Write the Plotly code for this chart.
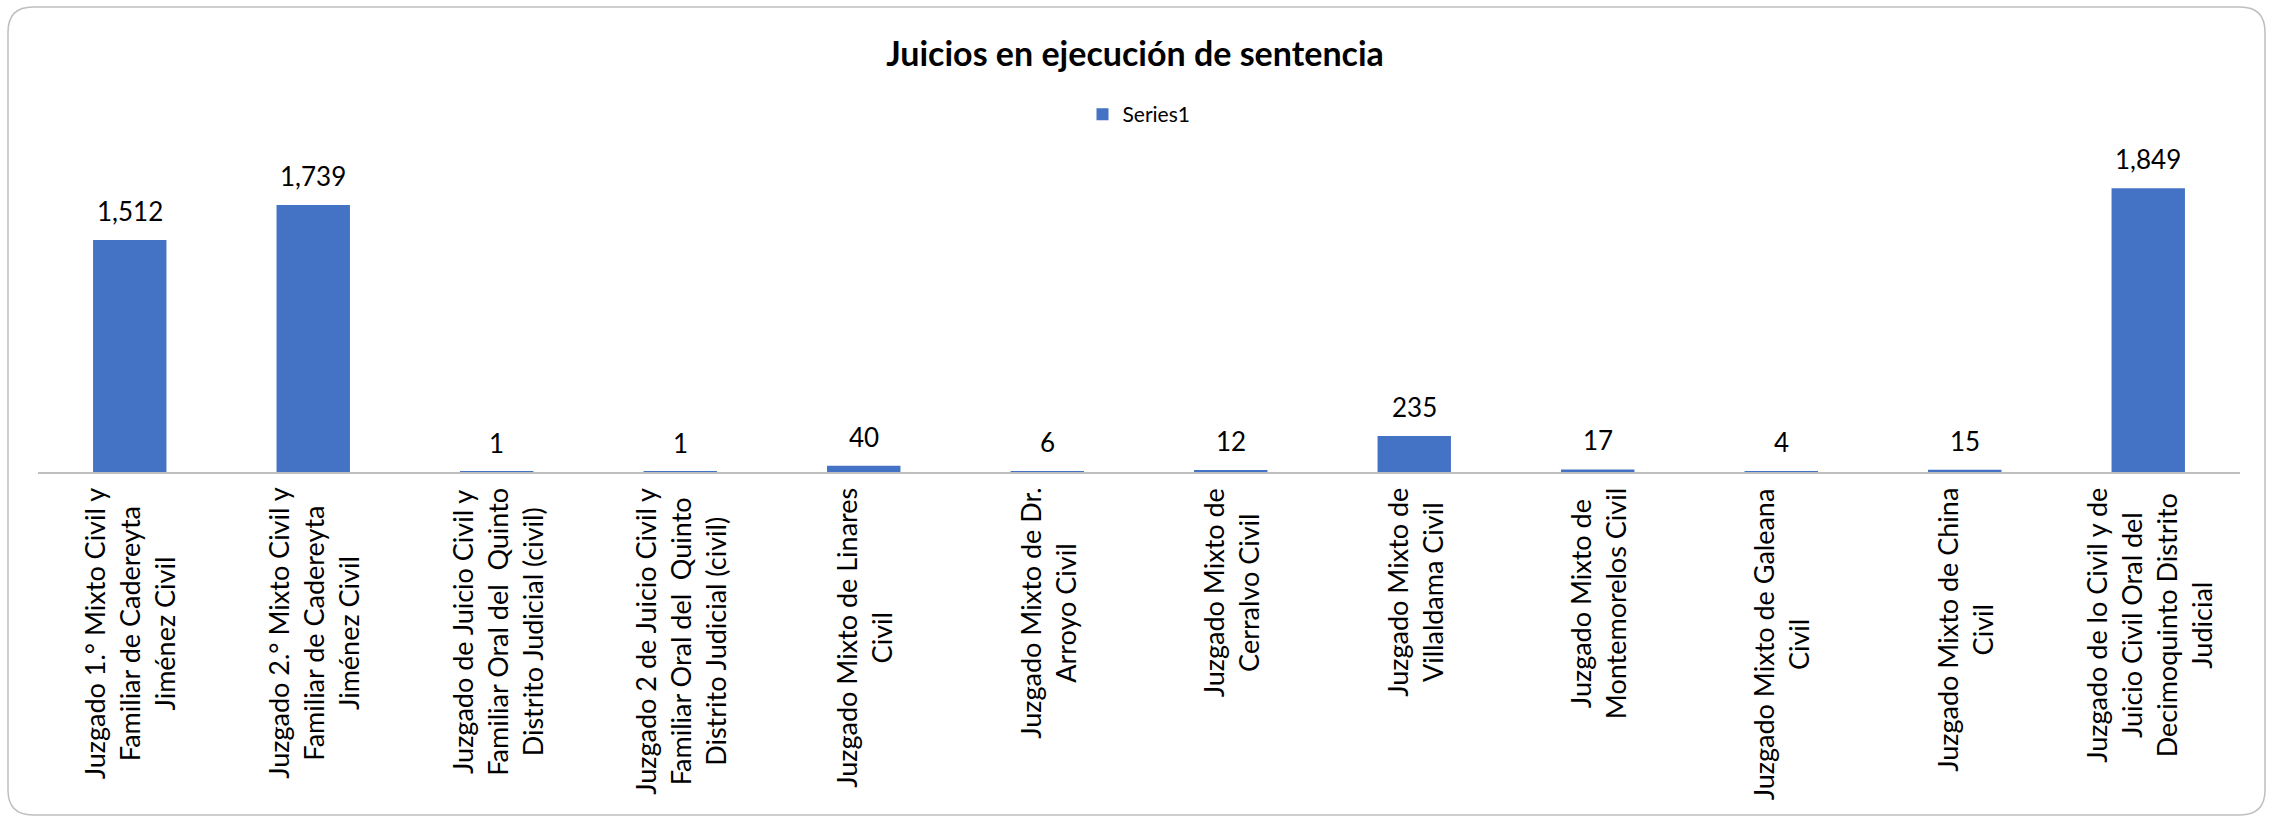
import plotly.graph_objects as go

# ---- data ----
categories = [
    "Juzgado 1.° Mixto Civil y<br>Familiar de Cadereyta<br>Jiménez Civil",
    "Juzgado 2.° Mixto Civil y<br>Familiar de Cadereyta<br>Jiménez Civil",
    "Juzgado de Juicio Civil y<br>Familiar Oral del  Quinto<br>Distrito Judicial (civil)",
    "Juzgado 2 de Juicio Civil y<br>Familiar Oral del  Quinto<br>Distrito Judicial (civil)",
    "Juzgado Mixto de Linares<br>Civil",
    "Juzgado Mixto de Dr.<br>Arroyo Civil",
    "Juzgado Mixto de<br>Cerralvo Civil",
    "Juzgado Mixto de<br>Villaldama Civil",
    "Juzgado Mixto de<br>Montemorelos Civil",
    "Juzgado Mixto de Galeana<br>Civil",
    "Juzgado Mixto de China<br>Civil",
    "Juzgado de lo Civil y de<br>Juicio Civil Oral del<br>Decimoquinto Distrito<br>Judicial",
]
values = [1512, 1739, 1, 1, 40, 6, 12, 235, 17, 4, 15, 1849]
value_labels = ["1,512", "1,739", "1", "1", "40", "6", "12", "235", "17", "4", "15", "1,849"]
series_name = "Series1"
title_text = "Juicios en ejecución de sentencia"

# ---- layout geometry (px) ----
W, H = 2270, 818
ML, MR, MT, MB = 38, 30, 165, 346
PW = W - ML - MR
PH = H - MT - MB

BAR_COLOR = "#4472C4"
FONT = "Lato"

fig = go.Figure()
fig.add_trace(go.Bar(
    x=list(range(len(categories))),
    y=values,
    name=series_name,
    marker=dict(color=BAR_COLOR, line=dict(width=0)),
    showlegend=True,
))

annotations = []
# data labels
for i, (v, t) in enumerate(zip(values, value_labels)):
    annotations.append(dict(
        x=i, y=v, xref="x", yref="y", text=t, showarrow=False,
        yanchor="bottom", xanchor="center", yshift=11,
        font=dict(family=FONT, size=26, color="#000000"),
    ))
# category labels (centered multi-line, rotated)
for i, c in enumerate(categories):
    annotations.append(dict(
        x=i, y=0, xref="x", yref="y", text=c, showarrow=False,
        textangle=-90, yanchor="top", xanchor="center", yshift=-14,
        align="center",
        font=dict(family=FONT, size=27, color="#000000"),
    ))

# rounded chart border
def px2paper(px, py):
    return (px - ML) / PW, (H - MB - py) / PH

x0, y0, x1, y1, r = 8, 7, 2265, 815, 25
def P(px, py):
    a, b = px2paper(px, py)
    return f"{a:.6f},{b:.6f}"
path = (
    f"M {P(x0 + r, y0)} L {P(x1 - r, y0)} Q {P(x1, y0)} {P(x1, y0 + r)} "
    f"L {P(x1, y1 - r)} Q {P(x1, y1)} {P(x1 - r, y1)} "
    f"L {P(x0 + r, y1)} Q {P(x0, y1)} {P(x0, y1 - r)} "
    f"L {P(x0, y0 + r)} Q {P(x0, y0)} {P(x0 + r, y0)} Z"
)

fig.update_layout(
    width=W, height=H,
    margin=dict(l=ML, r=MR, t=MT, b=MB, pad=0),
    paper_bgcolor="white", plot_bgcolor="white",
    bargap=0.6,
    title=dict(
        text=title_text, x=0.5, xref="container", xanchor="center",
        y=1 - 54 / H, yref="container", yanchor="middle",
        font=dict(family=FONT, size=34, color="#000000", weight="bold"),
    ),
    legend=dict(
        orientation="h", x=0.5, xanchor="center",
        y=1 + (MT - 114.5) / PH, yanchor="middle",
        font=dict(family=FONT, size=21, color="#000000"),
        bgcolor="rgba(0,0,0,0)",
    ),
    xaxis=dict(
        range=[-0.5, len(categories) - 0.5],
        showticklabels=False, showgrid=False, zeroline=False,
        showline=True, linecolor="#BFBFBF", linewidth=2, ticks="",
        fixedrange=True,
    ),
    yaxis=dict(
        range=[0, 2000], visible=False, showgrid=False, zeroline=False,
        fixedrange=True,
    ),
    annotations=annotations,
    shapes=[dict(type="path", path=path, xref="paper", yref="paper",
                 line=dict(color="#BFBFBF", width=1.5), layer="below")],
)

fig.write_html(
    "out.html",
    config={"displayModeBar": False},
    post_script="document.body.style.margin='0';document.body.style.overflow='hidden';",
)
